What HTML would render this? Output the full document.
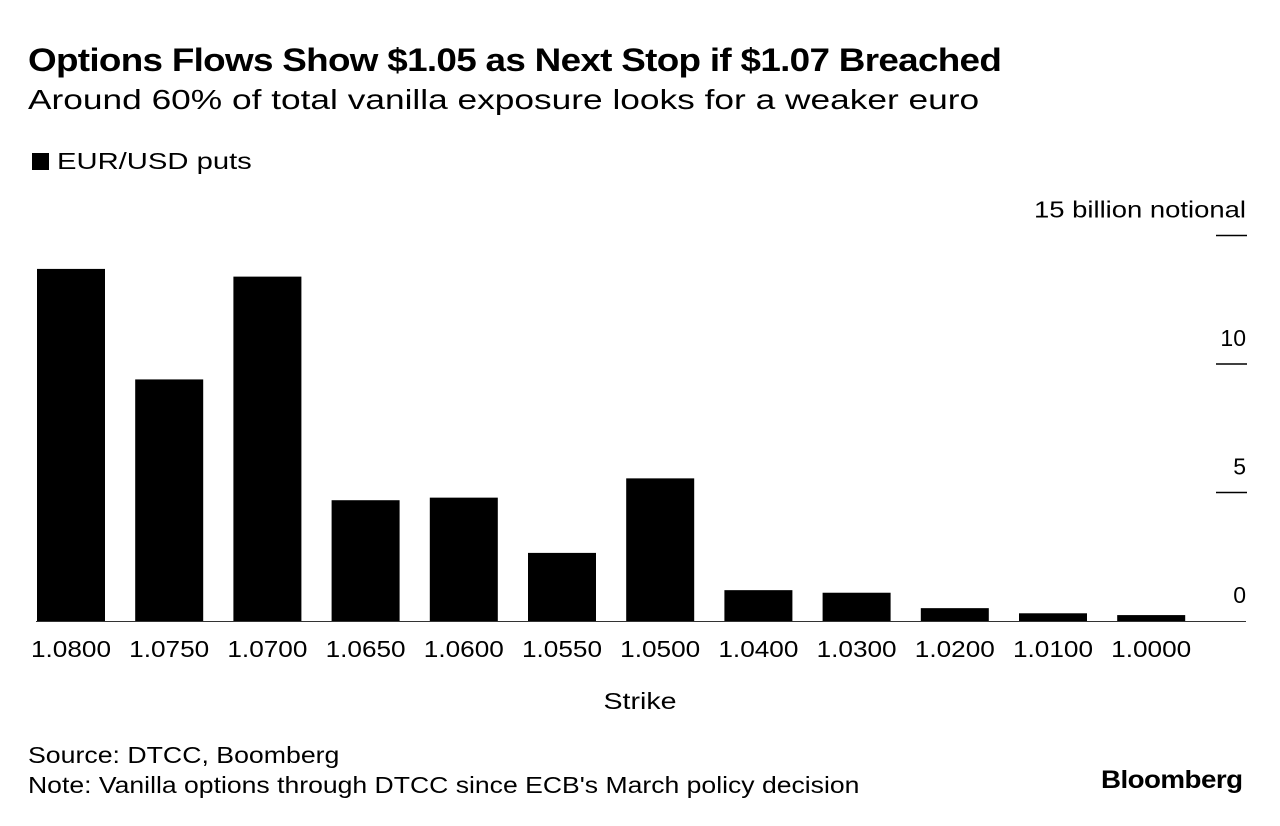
<!DOCTYPE html>
<html><head><meta charset="utf-8"><style>
body{margin:0;background:#fff;font-family:"Liberation Sans",sans-serif;color:#000}
#wrap{position:relative;width:1280px;height:826px;overflow:hidden}
.t{position:absolute;white-space:nowrap;transform-origin:0 0}
</style></head><body>
<div id="wrap">
<div class="t" style="left:28px;top:42px;font-size:32px;font-weight:bold;letter-spacing:-0.6px;transform:scaleX(1.151)">Options Flows Show $1.05 as Next Stop if $1.07 Breached</div>
<div class="t" style="left:28px;top:84px;font-size:28px;transform:scaleX(1.26)">Around 60% of total vanilla exposure looks for a weaker euro</div>
<div class="t" style="left:32px;top:148px;font-size:23px"><span style="display:inline-block;width:17px;height:17px;background:#000;margin-right:8px;vertical-align:-1px"></span><span style="display:inline-block;transform:scaleX(1.27);transform-origin:0 0">EUR/USD puts</span></div>
<svg id="chart" width="1280" height="826" style="position:absolute;left:0;top:0"></svg>
<div class="t" style="left:28px;top:742px;font-size:23px;transform:scaleX(1.16)">Source: DTCC, Boomberg</div>
<div class="t" style="left:28px;top:772px;font-size:23px;transform:scaleX(1.155)">Note: Vanilla options through DTCC since ECB's March policy decision</div>
<div class="t" style="left:1101px;top:766px;font-size:25px;font-weight:bold;letter-spacing:-0.5px;transform:scaleX(1.11)">Bloomberg</div>
</div>
<script>
const categories=["1.0800","1.0750","1.0700","1.0650","1.0600","1.0550","1.0500","1.0400","1.0300","1.0200","1.0100","1.0000"];
const values=[13.7,9.4,13.4,4.7,4.8,2.65,5.55,1.2,1.1,0.5,0.3,0.23];
const yTicks=[0,5,10,15];
const yTickLabels=["0","5","10","15 billion notional"];
const NS="http://www.w3.org/2000/svg";
const svg=document.getElementById('chart');
const y0=621,pxPer=25.7;
const y=v=>y0-v*pxPer;
const x=i=>37+i*98.2;
const bw=68;
function mk(t,a){const e=document.createElementNS(NS,t);for(const k in a)e.setAttribute(k,a[k]);svg.appendChild(e);return e;}
yTicks.forEach((v,i)=>{
 if(v>0){const l=mk('line',{x1:1216,x2:1247,y1:y(v),y2:y(v),stroke:'#000','stroke-width':1.5});
 
 }
 const t=mk('text',{x:1246,y:y(v)-18,'text-anchor':'end','font-size':23,'font-family':'Liberation Sans, sans-serif'});
 t.textContent=yTickLabels[i];
 if(yTickLabels[i].length>3){t.setAttribute('textLength',212);t.setAttribute('lengthAdjust','spacingAndGlyphs');}
 
 
});
categories.forEach((c,i)=>{
 const r=mk('rect',{x:x(i),y:y(values[i]),width:bw,height:values[i]*pxPer,fill:'#000'});
 
 
 const t=mk('text',{x:x(i)+bw/2,y:657,'text-anchor':'middle','font-size':23,'font-family':'Liberation Sans, sans-serif',textLength:80,lengthAdjust:'spacingAndGlyphs'});
 t.textContent=c;
 
 
});
const b=mk('line',{x1:36,x2:1246,y1:y0+0.5,y2:y0+0.5,stroke:'#333','stroke-width':1});


const xt=mk('text',{x:640,y:709,'text-anchor':'middle','font-size':23,'font-family':'Liberation Sans, sans-serif',textLength:73,lengthAdjust:'spacingAndGlyphs'});
xt.textContent='Strike';


</script>
</body></html>
